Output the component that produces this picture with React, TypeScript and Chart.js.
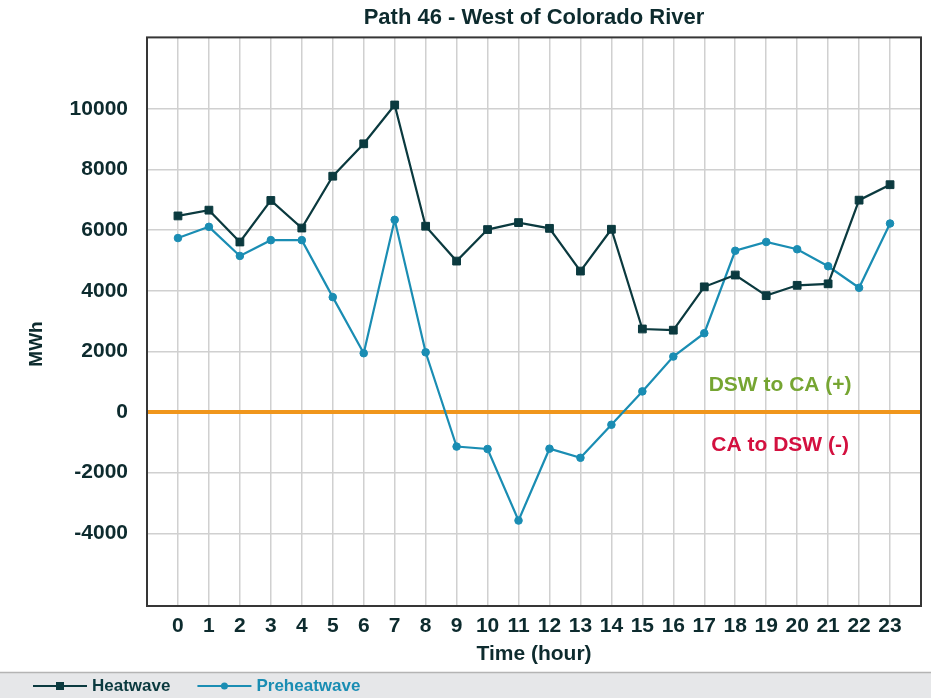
import React, { useEffect, useRef } from 'react';
import { Chart, registerables } from 'chart.js';

Chart.register(...registerables);

// ---- data ----
const hours = [0, 1, 2, 3, 4, 5, 6, 7, 8, 9, 10, 11, 12, 13, 14, 15, 16, 17, 18, 19, 20, 21, 22, 23];
const heatwave = [6470, 6660, 5610, 6980, 6070, 7780, 8850, 10130, 6130, 4980, 6020, 6250, 6060, 4650, 6030, 2740, 2700, 4130, 4520, 3840, 4180, 4230, 6990, 7500];
const preheatwave = [5740, 6110, 5150, 5670, 5670, 3790, 1940, 6340, 1970, -1140, -1220, -3580, -1210, -1510, -420, 680, 1830, 2600, 5320, 5610, 5370, 4810, 4100, 6220];
const yTicks = [-4000, -2000, 0, 2000, 4000, 6000, 8000, 10000];
const seriesNames = ['Heatwave', 'Preheatwave'];
const chartTitle = 'Path 46 - West of Colorado River';
const xTitle = 'Time (hour)';
const yTitle = 'MWh';
const notes = [
  { text: 'DSW to CA (+)', x: 19.45, y: 900, color: '#76a532' },
  { text: 'CA to DSW (-)', x: 19.45, y: -1090, color: '#d3103f' },
];

const FONT = "'Liberation Sans', Arial, Helvetica, sans-serif";
const TEXT = '#0d2b2e';
const HEAT = '#0b3a3f';
const PRE = '#1a8db3';
const ORANGE = '#f0961c';
const GRID = '#d0d0d0';

const framePlugin = {
  id: 'frame',
  beforeDatasetsDraw(chart: any) {
    const { ctx, chartArea: a } = chart;
    ctx.save();
    ctx.strokeStyle = '#363636';
    ctx.lineWidth = 2;
    ctx.strokeRect(a.left, a.top, a.right - a.left, a.bottom - a.top);
    ctx.restore();
  },
};

const notesPlugin = {
  id: 'notes',
  afterDatasetsDraw(chart: any) {
    const { ctx, scales } = chart;
    ctx.save();
    ctx.font = `bold 21px ${FONT}`;
    ctx.textAlign = 'center';
    ctx.textBaseline = 'middle';
    notes.forEach((n) => {
      ctx.fillStyle = n.color;
      ctx.fillText(n.text, scales.x.getPixelForValue(n.x), scales.y.getPixelForValue(n.y));
    });
    ctx.restore();
  },
};

const yTitlePlugin = {
  id: 'yTitleCustom',
  afterDraw(chart: any) {
    const { ctx } = chart;
    ctx.save();
    ctx.translate(37, 344);
    ctx.rotate(-Math.PI / 2);
    ctx.font = `bold 19px ${FONT}`;
    ctx.fillStyle = TEXT;
    ctx.textAlign = 'center';
    ctx.textBaseline = 'middle';
    ctx.fillText(yTitle, 0, 0);
    ctx.restore();
  },
};

const legendPlugin = {
  id: 'legendBand',
  afterDraw(chart: any) {
    const { ctx, width, height } = chart;
    const top = height - 26;
    ctx.save();
    ctx.fillStyle = '#e6e7e9';
    ctx.fillRect(0, top, width, height - top);
    ctx.strokeStyle = '#b4b4b4';
    ctx.lineWidth = 1.5;
    ctx.beginPath();
    ctx.moveTo(0, top + 0.5);
    ctx.lineTo(width, top + 0.5);
    ctx.stroke();
    const cy = top + 14;
    let x = 33;
    ctx.font = `bold 17px ${FONT}`;
    ctx.textBaseline = 'middle';
    ctx.textAlign = 'left';
    chart.data.datasets.forEach((ds: any) => {
      const color = ds.borderColor;
      ctx.strokeStyle = color;
      ctx.fillStyle = color;
      ctx.lineWidth = 2;
      ctx.beginPath();
      ctx.moveTo(x, cy);
      ctx.lineTo(x + 54, cy);
      ctx.stroke();
      const mx = x + 27;
      if (ds.pointStyle === 'rect') {
        ctx.fillRect(mx - 4, cy - 4, 8, 8);
      } else {
        ctx.beginPath();
        ctx.arc(mx, cy, 3.5, 0, Math.PI * 2);
        ctx.fill();
      }
      const tx = x + 59;
      ctx.fillText(ds.label, tx, cy);
      x = tx + ctx.measureText(ds.label).width + 27;
    });
    ctx.restore();
  },
};

export default function App() {
  const ref = useRef<HTMLCanvasElement | null>(null);

  useEffect(() => {
    if (!ref.current) return;
    const chart = new Chart(ref.current, {
      type: 'line',
      data: {
        datasets: [
          {
            label: seriesNames[0],
            data: hours.map((h, i) => ({ x: h, y: heatwave[i] })),
            borderColor: HEAT,
            backgroundColor: HEAT,
            borderWidth: 2.2,
            pointStyle: 'rect',
            pointRadius: 5.5,
            pointBorderWidth: 1,
            pointBackgroundColor: HEAT,
            pointBorderColor: HEAT,
          },
          {
            label: seriesNames[1],
            data: hours.map((h, i) => ({ x: h, y: preheatwave[i] })),
            borderColor: PRE,
            backgroundColor: PRE,
            borderWidth: 2.2,
            pointStyle: 'circle',
            pointRadius: 3.8,
            pointBorderWidth: 1,
            pointBackgroundColor: PRE,
            pointBorderColor: PRE,
          },
        ],
      },
      options: {
        responsive: false,
        animation: false,
        layout: { padding: { left: 0, right: 10, top: 0, bottom: 26 } },
        plugins: {
          legend: { display: false },
          tooltip: { enabled: false },
          title: {
            display: true,
            fullSize: false,
            text: chartTitle,
            color: TEXT,
            font: { family: FONT, size: 22, weight: 'bold' },
            padding: { top: 5, bottom: 6 },
          },
        },
        scales: {
          x: {
            type: 'linear',
            min: -1,
            max: 24,
            afterBuildTicks: (s: any) => {
              s.ticks = hours.map((v) => ({ value: v }));
            },
            afterFit: (s: any) => {
              s.height = 66;
            },
            ticks: {
              autoSkip: false,
              maxRotation: 0,
              padding: 8,
              color: TEXT,
              font: { family: FONT, size: 21, weight: 'bold' },
              callback: (v: any) => String(v),
            },
            grid: { color: GRID, lineWidth: 1.5, drawTicks: false },
            border: { display: false },
            title: {
              display: true,
              text: xTitle,
              color: TEXT,
              font: { family: FONT, size: 21, weight: 'bold' },
              padding: { top: 0, bottom: 5 },
            },
          },
          y: {
            type: 'linear',
            min: -6400,
            max: 12360,
            afterBuildTicks: (s: any) => {
              s.ticks = yTicks.map((v) => ({ value: v }));
            },
            afterFit: (s: any) => {
              s.width = 147;
            },
            ticks: {
              padding: 19,
              color: TEXT,
              font: { family: FONT, size: 21, weight: 'bold' },
              callback: (v: any) => String(v),
            },
            grid: {
              color: (c: any) => (c.tick && c.tick.value === 0 ? ORANGE : GRID),
              lineWidth: (c: any) => (c.tick && c.tick.value === 0 ? 4 : 1.5),
              drawTicks: false,
            },
            border: { display: false },
          },
        },
      },
      plugins: [framePlugin, notesPlugin, yTitlePlugin, legendPlugin],
    } as any);
    return () => chart.destroy();
  }, []);

  return (
    <div style={{ position: 'absolute', left: 0, top: 0, width: 931, height: 698, background: '#fff' }}>
      <canvas ref={ref} width={931} height={698} style={{ display: 'block', width: 931, height: 698 }} />
    </div>
  );
}
